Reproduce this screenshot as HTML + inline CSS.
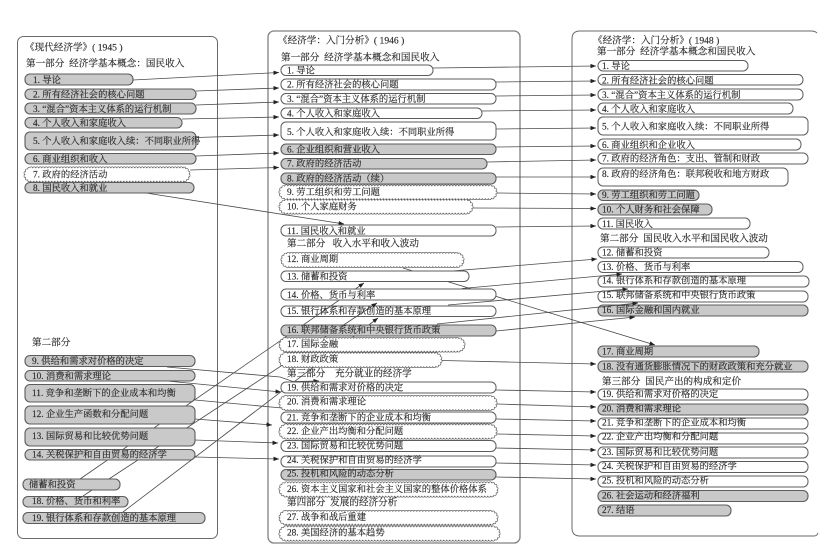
<!DOCTYPE html>
<html lang="zh"><head><meta charset="utf-8"><title>经济学教材结构演变</title>
<style>
html,body{margin:0;padding:0;background:#fff;width:830px;height:556px;overflow:hidden}
svg{display:block;filter:blur(.35px)}
text{font-family:"Liberation Serif","Noto Serif CJK SC",serif;font-size:9.3px;fill:#2b2b2b;stroke:#2b2b2b;stroke-width:.15}
.h{font-size:9.6px}
.f{fill:none;stroke:#6a6a6a;stroke-width:1}
.w{fill:#fff;stroke:#5c5c5c;stroke-width:1}
.g{fill:#c9c9c9;stroke:#5c5c5c;stroke-width:1.1}
.c1{fill:none;stroke:#555;stroke-width:3.5;stroke-dasharray:0 3;stroke-linecap:round}
.c2{fill:none;stroke:#fff;stroke-width:2.3;stroke-dasharray:0 3;stroke-linecap:round}
.c3{fill:#fff;stroke:none}
.l line,.l polyline{stroke:#4a4a4a;stroke-width:.8;fill:none;marker-end:url(#a)}
.n line{stroke:#4a4a4a;stroke-width:.8;fill:none;marker-end:none}
</style></head><body>
<svg width="830" height="556" viewBox="0 0 830 556" xmlns="http://www.w3.org/2000/svg">
<defs><marker id="a" markerUnits="userSpaceOnUse" markerWidth="5.5" markerHeight="4.4" refX="5.5" refY="2.2" orient="auto"><path d="M0 0L5.5 2.2L0 4.4Z" fill="#222"/></marker>
<g id="cl">
<rect x="25.3" y="168.3" width="163.4" height="12.4" rx="6"/>
<rect x="280.3" y="186.3" width="215.4" height="11.9" rx="6"/>
<rect x="280.3" y="200.8" width="191.4" height="11.9" rx="6"/>
<rect x="282.3" y="253.8" width="180.4" height="12.4" rx="6"/>
<rect x="280.3" y="338.8" width="183.4" height="11.9" rx="6"/>
<rect x="280.3" y="353.8" width="160.4" height="12.4" rx="6"/>
<rect x="280.3" y="396.8" width="215.4" height="12.4" rx="6"/>
<rect x="280.3" y="425.3" width="215.4" height="12.4" rx="6"/>
<rect x="280.3" y="483.3" width="216.4" height="12.4" rx="6"/>
<rect x="280.3" y="511.8" width="216.4" height="11.9" rx="6"/>
<rect x="280.3" y="527.3" width="218.4" height="12.4" rx="6"/>
</g></defs>
<rect width="830" height="556" fill="#fff"/>
<!-- frames -->
<rect class="f" x="17.5" y="36.5" width="200" height="502" rx="6"/>
<rect class="f" x="268" y="31" width="252" height="512" rx="6" style="stroke:#808080;stroke-width:1.3"/>
<path class="f" d="M817 33Q815 31 811 31H580Q572 31 572 39V528Q572 536 580 536H814Q817 536 818 533"/>

<!-- pills beneath connectors -->
<rect class="w" x="281" y="306" width="215" height="10.5" rx="5"/>
<rect class="w" x="598" y="60.5" width="150" height="10.5" rx="5"/>
<rect class="w" x="598" y="74.5" width="205" height="10.5" rx="5"/>
<rect class="w" x="598" y="89" width="205" height="11" rx="5"/>
<rect class="w" x="598" y="103" width="195" height="11" rx="5"/>
<rect class="w" x="598" y="117" width="210" height="18" rx="5"/>
<rect class="w" x="598" y="139" width="203" height="11" rx="5"/>
<rect class="w" x="598" y="153" width="210" height="11" rx="5"/>
<rect class="w" x="598" y="168" width="190" height="18" rx="5"/>
<rect class="g" x="598" y="190" width="101" height="10.5" rx="5"/>
<rect class="g" x="598" y="204" width="114" height="11" rx="5"/>
<rect class="w" x="598" y="218" width="152" height="11" rx="5"/>
<rect class="w" x="598" y="247" width="171" height="11" rx="5"/>
<rect class="w" x="598" y="261.5" width="205" height="11" rx="5"/>
<rect class="w" x="598" y="276" width="211" height="11" rx="5"/>
<rect class="w" x="598" y="291" width="210" height="11" rx="5"/>
<rect class="g" x="598" y="305" width="210" height="11" rx="5"/>
<rect class="g" x="598" y="346" width="161" height="11" rx="5"/>
<rect class="g" x="598" y="361" width="210" height="11" rx="5"/>
<rect class="w" x="598" y="389" width="210" height="11" rx="5"/>
<rect class="g" x="598" y="404" width="210" height="11" rx="5"/>
<rect class="w" x="598" y="418" width="210" height="11" rx="5"/>
<rect class="w" x="598" y="433" width="210" height="11" rx="5"/>
<rect class="w" x="598" y="447" width="210" height="11" rx="5"/>
<rect class="w" x="598" y="461.5" width="210" height="11" rx="5"/>
<rect class="w" x="598" y="476" width="210" height="11" rx="5"/>
<rect class="g" x="598" y="490.5" width="210" height="11" rx="5"/>
<rect class="g" x="598" y="505" width="133" height="11" rx="5"/>

<!-- connectors -->
<g class="l">
<line x1="133" y1="80" x2="279" y2="72.5"/>
<line x1="196" y1="91" x2="279" y2="88"/>
<line x1="196" y1="105" x2="279" y2="102"/>
<line x1="182" y1="119" x2="279" y2="117"/>
<line x1="196" y1="137.5" x2="279" y2="135"/>
<line x1="196" y1="156" x2="279" y2="153"/>
<line x1="190" y1="170" x2="279" y2="167.5"/>
<line x1="146" y1="193" x2="344" y2="224"/>
<line x1="433" y1="68" x2="596" y2="66"/>
<line x1="496" y1="82" x2="596" y2="81"/>
<line x1="496" y1="96" x2="596" y2="95"/>
<line x1="482" y1="111" x2="596" y2="110"/>
<line x1="496" y1="129" x2="596" y2="128"/>
<line x1="496" y1="147" x2="596" y2="146"/>
<line x1="487" y1="162" x2="596" y2="160"/>
<line x1="496" y1="177" x2="596" y2="177"/>
<line x1="497" y1="193" x2="596" y2="194"/>
<line x1="473" y1="208" x2="596" y2="208.5"/>
<line x1="496" y1="227" x2="596" y2="226"/>
<line x1="440" y1="272" x2="597" y2="259"/>
<line x1="403" y1="268" x2="655" y2="345"/>
<line x1="462" y1="288.5" x2="622" y2="274"/>
<line x1="448" y1="305" x2="628" y2="289"/>
<line x1="437" y1="324" x2="638" y2="303"/>
<line x1="496" y1="331" x2="635" y2="317"/>
<line x1="442" y1="360.5" x2="596" y2="364"/>
<line x1="496" y1="390" x2="596" y2="392"/>
<line x1="497" y1="404" x2="596" y2="407"/>
<line x1="496" y1="419" x2="596" y2="421"/>
<line x1="497" y1="434" x2="596" y2="436"/>
<line x1="496" y1="448" x2="596" y2="450"/>
<line x1="496" y1="463" x2="596" y2="465"/>
<line x1="496" y1="477" x2="596" y2="479"/>
<polyline points="167,367 280,377 293,381.5 319,381"/>
<line x1="167" y1="381" x2="281" y2="392"/>
<line x1="195" y1="419" x2="272" y2="425"/>
<line x1="195" y1="440" x2="278" y2="443"/>
<line x1="195" y1="457" x2="279" y2="459"/>
<line x1="80" y1="479" x2="364" y2="283"/>
<line x1="83" y1="496" x2="377" y2="303"/>
<line x1="123" y1="512" x2="378" y2="318"/>
</g>
<g class="n"><line x1="195" y1="400" x2="282" y2="408"/></g>

<!-- scalloped cloud shapes -->
<use href="#cl" class="c1"/>
<use href="#cl" class="c2"/>
<use href="#cl" class="c3"/>

<!-- left pills -->
<rect class="g" x="25" y="74" width="108" height="11" rx="5"/>
<rect class="g" x="25" y="89" width="171" height="10.5" rx="5"/>
<rect class="g" x="25" y="103" width="171" height="11" rx="5"/>
<rect class="g" x="25" y="117.5" width="157" height="10.5" rx="5"/>
<rect class="g" x="25" y="132" width="171" height="18" rx="5"/>
<rect class="g" x="25" y="153.5" width="171" height="10.5" rx="5"/>
<rect class="g" x="25" y="182.5" width="169" height="10.5" rx="5"/>
<rect class="g" x="25" y="355.5" width="170" height="11" rx="5"/>
<rect class="g" x="25" y="370.5" width="170" height="10.5" rx="5"/>
<rect class="g" x="25" y="384.5" width="170" height="17.5" rx="5"/>
<rect class="g" x="25" y="406" width="170" height="18" rx="5"/>
<rect class="g" x="25" y="428" width="170" height="18" rx="5"/>
<rect class="g" x="25" y="449.5" width="170" height="10.5" rx="5"/>
<rect class="g" x="23" y="479" width="97" height="11" rx="5"/>
<rect class="g" x="23" y="496.5" width="105" height="10.5" rx="5"/>
<rect class="g" x="23" y="512.5" width="182" height="11" rx="5"/>

<!-- middle pills -->
<rect class="w" x="281" y="65" width="152" height="10.5" rx="5"/>
<rect class="w" x="281" y="79" width="215" height="11" rx="5"/>
<rect class="w" x="281" y="93.5" width="215" height="10.5" rx="5"/>
<rect class="w" x="281" y="108" width="201" height="10.5" rx="5"/>
<rect class="w" x="281" y="122" width="215" height="18" rx="5"/>
<rect class="g" x="281" y="144" width="215" height="10.5" rx="5"/>
<rect class="g" x="281" y="158.5" width="206" height="10.5" rx="5"/>
<rect class="g" x="281" y="173" width="215" height="11" rx="5"/>
<rect class="w" x="281" y="225" width="215" height="11" rx="5"/>
<rect class="w" x="281" y="271" width="188" height="10.5" rx="5"/>
<rect class="w" x="281" y="289" width="215" height="11" rx="5"/>
<rect class="g" x="281" y="325" width="215" height="11" rx="5"/>
<rect class="w" x="281" y="382" width="215" height="11" rx="5"/>
<rect class="w" x="281" y="412" width="215" height="11" rx="5"/>
<rect class="w" x="281" y="440.5" width="215" height="11" rx="5"/>
<rect class="w" x="281" y="456" width="215" height="11" rx="5"/>
<rect class="g" x="281" y="469.5" width="215" height="10.5" rx="5"/>

<!-- left text -->
<text class="h" x="25" y="50.5">《现代经济学》(&#160;1945&#160;)</text>
<text class="h" x="26" y="66.5">第一部分&#160;&#160;经济学基本概念：国民收入</text>
<text x="33" y="83">1. 导论</text>
<text x="33" y="97.5">2. 所有经济社会的核心问题</text>
<text x="33" y="112">3. “混合”资本主义体系的运行机制</text>
<text x="33" y="126">4. 个人收入和家庭收入</text>
<text x="33" y="144">5. 个人收入和家庭收入续：不同职业所得</text>
<text x="33" y="162">6. 商业组织和收入</text>
<text x="33" y="177.5">7. 政府的经济活动</text>
<text x="33" y="191">8. 国民收入和就业</text>
<text class="h" x="32" y="345.5">第二部分</text>
<text x="32" y="364">9. 供给和需求对价格的决定</text>
<text x="32" y="379">10. 消费和需求理论</text>
<text x="32" y="396">11. 竞争和垄断下的企业成本和均衡</text>
<text x="32" y="417">12. 企业生产函数和分配问题</text>
<text x="32" y="439">13. 国际贸易和比较优势问题</text>
<text x="32" y="457.5">14. 关税保护和自由贸易的经济学</text>
<text x="29" y="487.5">储蓄和投资</text>
<text x="32" y="504">18. 价格、货币和利率</text>
<text x="32" y="521">19. 银行体系和存款创造的基本原理</text>

<!-- middle text -->
<text class="h" x="278" y="43.5">《经济学：入门分析》(&#160;1946&#160;)</text>
<text class="h" x="281" y="60.5">第一部分&#160;&#160;经济学基本概念和国民收入</text>
<text x="287" y="73.5">1. 导论</text>
<text x="287" y="87.5">2. 所有经济社会的核心问题</text>
<text x="287" y="102">3. “混合”资本主义体系的运行机制</text>
<text x="287" y="116.5">4. 个人收入和家庭收入</text>
<text x="287" y="135">5. 个人收入和家庭收入续：不同职业所得</text>
<text x="287" y="152.5">6. 企业组织和营业收入</text>
<text x="287" y="166.5">7. 政府的经济活动</text>
<text x="287" y="181.5">8. 政府的经济活动（续）</text>
<text x="287" y="195">9. 劳工组织和劳工问题</text>
<text x="287" y="209.5">10. 个人家庭财务</text>
<text x="287" y="234">11. 国民收入和就业</text>
<text class="h" x="287" y="246.5">第二部分&#160;&#160;&#160;收入水平和收入波动</text>
<text x="287" y="262">12. 商业周期</text>
<text x="287" y="279.5">13. 储蓄和投资</text>
<text x="287" y="298">14. 价格、货币与利率</text>
<text x="287" y="314">15. 银行体系和存款创造的基本原理</text>
<text x="287" y="333">16. 联邦储备系统和中央银行货币政策</text>
<text x="287" y="347">17. 国际金融</text>
<text x="287" y="362">18. 财政政策</text>
<text class="h" x="287" y="376.5">第三部分&#160;&#160;&#160;&#160;充分就业的经济学</text>
<text x="287" y="390.5">19. 供给和需求对价格的决定</text>
<text x="287" y="404.5">20. 消费和需求理论</text>
<text x="287" y="420.5">21. 竞争和垄断下的企业成本和均衡</text>
<text x="287" y="434">22. 企业产出均衡和分配问题</text>
<text x="287" y="448.5">23. 国际贸易和比较优势问题</text>
<text x="287" y="463">24. 关税保护和自由贸易的经济学</text>
<text x="287" y="476.5">25. 投机和风险的动态分析</text>
<text x="287" y="492">26. 资本主义国家和社会主义国家的整体价格体系</text>
<text class="h" x="287" y="505.5">第四部分&#160;&#160;发展的经济分析</text>
<text x="287" y="520">27. 战争和战后重建</text>
<text x="287" y="535.5">28. 美国经济的基本趋势</text>

<!-- right text -->
<text class="h" x="593" y="43.5">《经济学：入门分析》(&#160;1948&#160;)</text>
<text class="h" x="597" y="54.5">第一部分&#160;&#160;经济学基本概念和国民收入</text>
<text x="602" y="69">1. 导论</text>
<text x="602" y="83.5">2. 所有经济社会的核心问题</text>
<text x="602" y="98">3. “混合”资本主义体系的运行机制</text>
<text x="602" y="112">4. 个人收入和家庭收入</text>
<text x="602" y="129.5">5. 个人收入和家庭收入续：不同职业所得</text>
<text x="602" y="148">6. 商业组织和企业收入</text>
<text x="602" y="161.5">7. 政府的经济角色：支出、管制和财政</text>
<text x="602" y="177">8. 政府的经济角色：联邦税收和地方财政</text>
<text x="602" y="198">9. 劳工组织和劳工问题</text>
<text x="602" y="212.5">10. 个人财务和社会保障</text>
<text x="602" y="227">11. 国民收入</text>
<text class="h" x="600" y="241.5">第二部分&#160;&#160;国民收入水平和国民收入波动</text>
<text x="602" y="255.5">12. 储蓄和投资</text>
<text x="602" y="270">13. 价格、货币与利率</text>
<text x="602" y="283.5">14. 银行体系和存款创造的基本原理</text>
<text x="602" y="298">15. 联邦储备系统和中央银行货币政策</text>
<text x="602" y="313">16. 国际金融和国内就业</text>
<text x="602" y="354.5">17. 商业周期</text>
<text x="602" y="369.5">18. 没有通货膨胀情况下的财政政策和充分就业</text>
<text class="h" x="602" y="384.5">第三部分&#160;&#160;国民产出的构成和定价</text>
<text x="602" y="397">19. 供给和需求对价格的决定</text>
<text x="602" y="411.5">20. 消费和需求理论</text>
<text x="602" y="425.5">21. 竞争和垄断下的企业成本和均衡</text>
<text x="602" y="439.5">22. 企业产出均衡和分配问题</text>
<text x="602" y="455">23. 国际贸易和比较优势问题</text>
<text x="602" y="469">24. 关税保护和自由贸易的经济学</text>
<text x="602" y="483.5">25. 投机和风险的动态分析</text>
<text x="602" y="498.5">26. 社会运动和经济福利</text>
<text x="602" y="513">27. 结语</text>
</svg>
</body></html>
